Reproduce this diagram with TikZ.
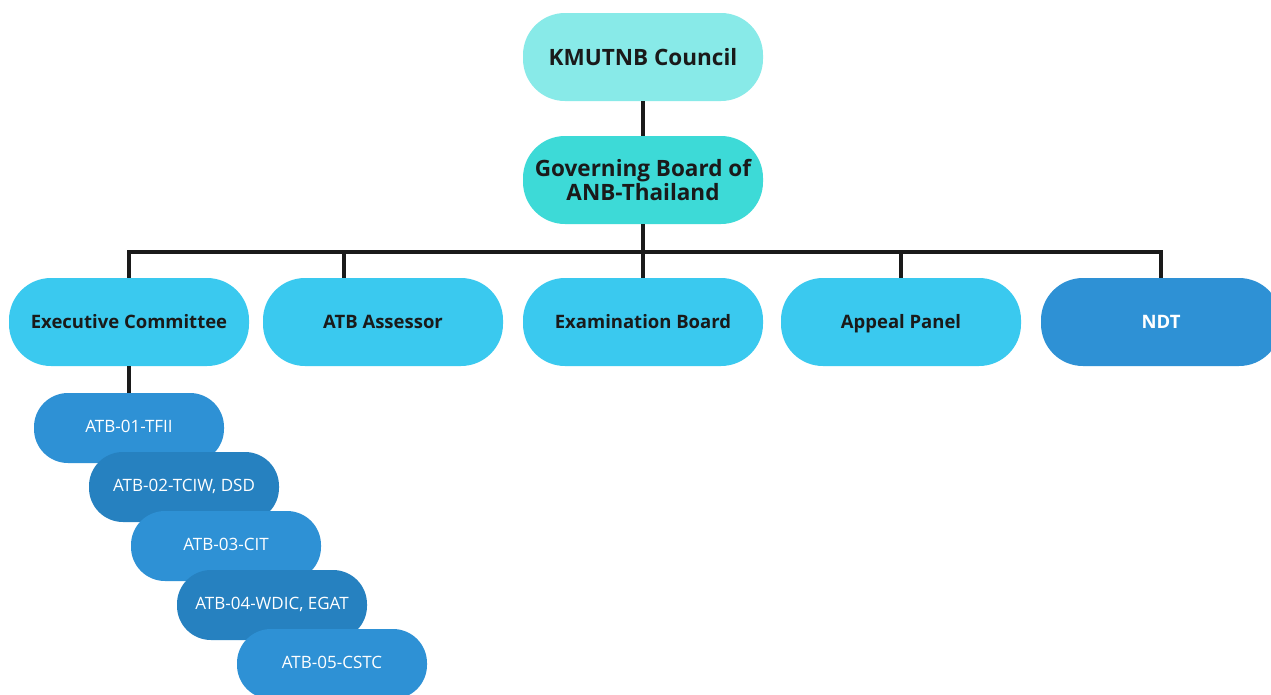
\documentclass[tikz,border=0pt]{standalone}
\usepackage{fontspec}
\setmainfont{Open Sans}
\usepackage{tikz}
\usetikzlibrary{positioning}
\usetikzlibrary{calc}

\definecolor{topcyan}{HTML}{88EAE8}
\definecolor{govcyan}{HTML}{3DDAD7}
\definecolor{rowblue}{HTML}{3AC9EF}
\definecolor{atblight}{HTML}{2E91D5}
\definecolor{atbdark}{HTML}{2681C0}
\definecolor{ink}{HTML}{1A1A1A}

\begin{document}
\begin{tikzpicture}[
		x=1pt, y=-1pt,
		big/.style = {
			shape=rectangle,
			align=center,
			rounded corners=42pt,
			minimum width=240pt,
			minimum height=88pt,
			text=ink,
			font=\fontsize{22.5}{23.5}\selectfont\bfseries
		},
		row/.style = {big, fill=rowblue, text height=14pt, text depth=1pt,
			font=\fontsize{18.5}{22}\selectfont\bfseries},
		small/.style = {
			shape=rectangle,
			rounded corners=34pt,
			minimum width=190pt,
			minimum height=70pt,
			text=white, text height=12pt, text depth=3pt,
			font=\fontsize{17}{20}\selectfont
		},
		link/.style={draw=ink, line width=3.2pt}
		]
		\useasboundingbox (0,0) rectangle (1271,694);
		\clip (0,0) rectangle (1271,694);
		\fill[white] (0,0) rectangle (1271,694);

		\node[big, fill=topcyan] (council) at (643,57) {KMUTNB Council};
		\node[big, fill=govcyan] (gov) at (643,180) {Governing Board of\\ANB-Thailand};

		\node[row] (exec) at (129,322) {Executive Committee};
		\node[row] (assess) at (383,322) {ATB Assessor};
		\node[row] (exam) at (643,322) {Examination Board};
		\node[row] (appeal) at (901,322) {Appeal Panel};
		\node[row, fill=atblight, text=white] (ndt) at (1161,322) {NDT};

		\node[small, fill=atblight] (atb1) at (129,428) {ATB-01-TFII};
		\node[small, fill=atbdark] (atb2) at (184,487) {ATB-02-TCIW, DSD};
		\node[small, fill=atblight] (atb3) at (226,546) {ATB-03-CIT};
		\node[small, fill=atbdark] (atb4) at (272,605) {ATB-04-WDIC, EGAT};
		\node[small, fill=atblight] (atb5) at (332,664) {ATB-05-CSTC};

		\coordinate (brk) at (643,252);
		\draw[link] (council) -- (gov);
		\draw[link] (gov.south) -- (brk) -- (exam.north);
		\draw[link] (exec.north) |- (brk) -| (ndt.north);
		\draw[link] ($(assess.north)+(-39,0)$) -- ($(assess.north |- brk)+(-39,0)$);
		\draw[link] (appeal.north) -- (appeal.north |- brk);
		\draw[link] (exec.south) -- (atb1.north);
	\end{tikzpicture}
\end{document}
